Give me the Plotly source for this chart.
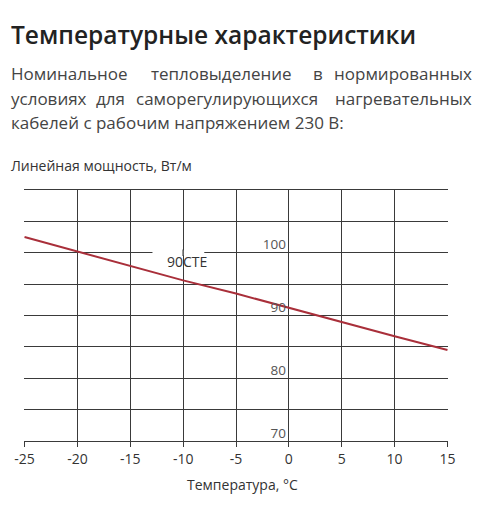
import plotly.graph_objects as go

temps = [-25, -20, -15, -10, -5, 0, 5, 10, 15]
power = [102.5, 100.2, 97.9, 95.6, 93.5, 91.2, 88.9, 86.7, 84.5]
series_name = "90CTE"

y_grid = [70, 75, 80, 85, 90, 95, 100, 105, 110]
y_labels = ["70", "", "80", "", "90", "", "100", "", ""]
x_ticks = [-25, -20, -15, -10, -5, 0, 5, 10, 15]
x_labels = ["-25", "-20", "-15", "-10", "-5", "0", "5", "10", "15"]

title = "Температурные характеристики"
subtitle = [
    "Номинальное тепловыделение в нормированных",
    "условиях для саморегулирующихся нагревательных",
    "кабелей с рабочим напряжением 230 В:",
]
y_title = "Линейная мощность, Вт/м"
x_title = "Температура, °С"

FONT = "Open Sans"
GRID = "#3a3a3a"
TEXT = "#444444"

fig = go.Figure()
fig.add_trace(go.Scatter(
    x=temps, y=power, mode="lines",
    line={"color": "#a92f3a", "width": 2},
    name=series_name, showlegend=False, hoverinfo="x+y",
))

# the page puts the figure 8px in from the corner, so screen px minus 8
OFF = 8
W, H = 500, 520
ml, mt, pw, ph = 16, 182, 424, 251
mr, mb = W - ml - pw, H - mt - ph


def px(xs):
    return (xs - OFF - ml) / pw


def py(ys):
    return (mt + ph - (ys - OFF)) / ph


ann = [
    dict(text=title, x=px(9), y=py(34), xanchor="left", yanchor="middle",
         font={"family": FONT, "size": 24.5, "color": "#222222", "weight": 600}),
    dict(text=y_title, x=px(9), y=py(165), xanchor="left", yanchor="middle",
         font={"family": FONT, "size": 14, "color": "#333333"}),
    dict(text=x_title, x=px(242), y=py(484), xanchor="center", yanchor="middle",
         font={"family": FONT, "size": 14, "color": "#333333"}),
]

# justified paragraph: first two lines are placed word by word
sub_font = {"family": FONT, "size": 17, "color": TEXT}
line_y = [73.5, 98, 122.5]
word_x = [
    [(9, "left"), (221, "center"), (318, "center"), (474, "right")],
    [(9, "left"), (110, "center"), (227, "center"), (474, "right")],
]
for i, line in enumerate(subtitle):
    if i < len(word_x):
        for word, (xs, anchor) in zip(line.split(" "), word_x[i]):
            ann.append(dict(text=word, x=px(xs), y=py(line_y[i]), xanchor=anchor,
                            yanchor="middle", font=sub_font))
    else:
        ann.append(dict(text=line, x=px(9), y=py(line_y[i]), xanchor="left",
                        yanchor="middle", font=sub_font))
for a in ann:
    a.update(xref="paper", yref="paper", showarrow=False)

# series label sitting on a gap in the 100 gridline
ann.append(dict(text=series_name, x=-9.6, y=98.6, xref="x", yref="y",
                showarrow=False, font={"family": FONT, "size": 14, "color": "#333333"}))

shapes = [
    dict(type="rect", xref="x", yref="y", x0=-12.9, x1=-8.0, y0=99.6, y1=100.4,
         fillcolor="white", line={"width": 0}, layer="between"),
    dict(type="line", xref="x", yref="y", x0=-10, x1=-10, y0=99.5, y1=100.5,
         line={"color": GRID, "width": 1.3}, layer="between"),
]

fig.update_layout(
    width=W, height=H,
    margin={"l": ml, "r": mr, "t": mt, "b": mb},
    paper_bgcolor="white", plot_bgcolor="white",
    annotations=ann, shapes=shapes,
    font={"family": FONT, "color": TEXT},
)
fig.update_xaxes(
    range=[-25.05, 15.05], tickvals=x_ticks, ticktext=x_labels, automargin=False,
    ticks="outside", ticklen=5, tickcolor=GRID, tickwidth=1.3,
    showgrid=True, gridcolor=GRID, gridwidth=1.3,
    showline=True, linecolor=GRID, linewidth=1.3, mirror=True, zeroline=False,
    tickfont={"family": FONT, "size": 14, "color": "#333333"},
)
fig.update_yaxes(
    range=[70, 110], tickvals=y_grid, ticktext=y_labels, automargin=False,
    anchor="free", position=0.625, showline=False, zeroline=False, ticks="",
    showgrid=True, gridcolor=GRID, gridwidth=1.3,
    ticklabelshift=-8, ticklabelstandoff=3,
    tickfont={"family": FONT, "size": 13.5, "color": "#555555"},
)

fig.write_html("out.html")
